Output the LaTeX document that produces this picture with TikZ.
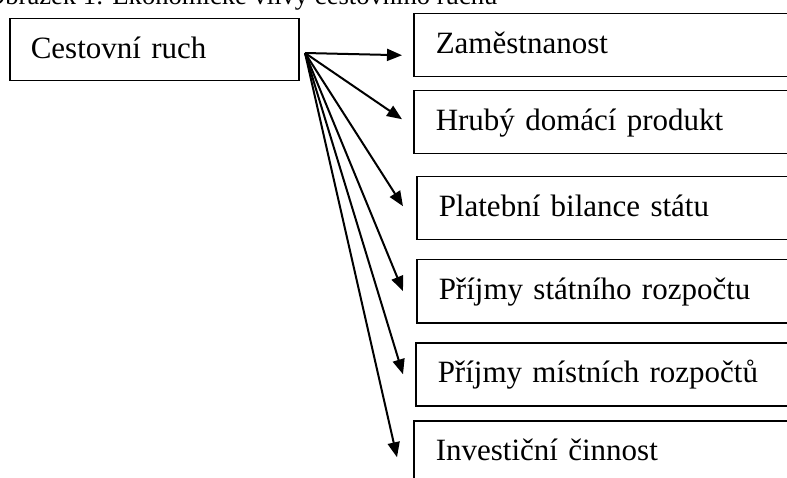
\documentclass[tikz,border=0pt]{standalone}
\usepackage{fontspec}
\setmainfont{Liberation Serif}
\usetikzlibrary{arrows.meta}

\tikzset{
	effbox/.style={draw, line width=1.5pt, anchor=north west, minimum height=63pt,
		text width=356pt, inner xsep=22pt, align=left,
		text height=24.8pt, text depth=7.8pt, font=\fontsize{31}{36}\selectfont},
	effarrow/.style={line width=2pt, -{Triangle[length=15pt,width=12pt]}}
}

\begin{document}
\begin{tikzpicture}[x=1pt, y=-1pt]
	\useasboundingbox (0,0) rectangle (787,478);

	\node[anchor=base west, inner sep=0, font=\fontsize{26.6}{30}\selectfont] (capt) at (-14,5) {Obrázek 1: Ekonomické vlivy cestovního ruchu};

	\node[effbox, text width=247pt, inner xsep=21pt, minimum height=62pt] (cr) at (9,18) {Cestovní ruch};

	\node[effbox] (zam) at (413,13) {Zaměstnanost};
	\node[effbox] (hdp) at (413,90) {Hrubý domácí produkt};
	\node[effbox] (pbs) at (416,176) {Platební bilance státu};
	\node[effbox] (psr) at (416,259) {Příjmy státního rozpočtu};
	\node[effbox] (pmr) at (415,342) {Příjmy místních rozpočtů};
	\node[effbox] (inv) at (413,420) {Investiční činnost};

	\coordinate (src) at (305,53);

	\draw [effarrow] (src) -- ([xshift=-11pt, yshift=-10pt]zam.west);
	\draw [effarrow] (src) -- ([xshift=-11pt, yshift=3pt]hdp.west);
	\draw [effarrow] (src) -- ([xshift=-13pt, yshift=2pt]pbs.west);
	\draw [effarrow] (src) -- ([xshift=-13pt]psr.west);
	\draw [effarrow] (src) -- ([xshift=-12pt]pmr.west);
	\draw [effarrow] (src) -- ([xshift=-16pt, yshift=-5pt]inv.west);
\end{tikzpicture}
\end{document}
